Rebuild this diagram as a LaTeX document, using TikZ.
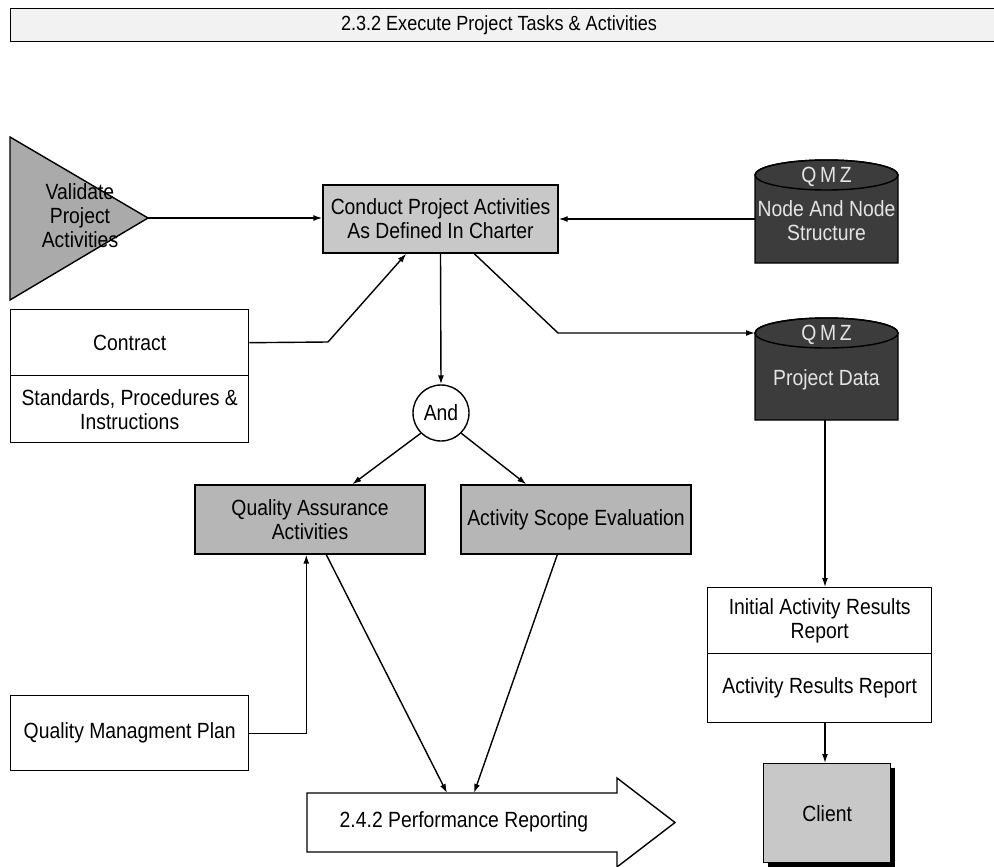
\documentclass[tikz,border=0pt]{standalone}
\usepackage{fontspec}
\setmainfont{Liberation Sans}[FakeStretch=0.88]
\usetikzlibrary{arrows.meta,calc}
\definecolor{titlegray}{HTML}{F2F2F2}
\definecolor{lightg}{HTML}{C8C8C8}
\definecolor{midg}{HTML}{B6B6B6}
\definecolor{trig}{HTML}{AAAAAA}
\definecolor{darkg}{HTML}{3C3C3C}
\definecolor{cyltext}{HTML}{E4E4E4}
\begin{document}
\begin{tikzpicture}[x=1pt,y=1pt,
  ln/.style={line width=1.4pt},
  arr/.style={ln,-{Latex[length=9pt,width=6pt]}},
  txt/.style={font=\fontsize{22}{24}\selectfont, align=center, inner sep=0},
  box/.style={draw, line width=1.4pt, txt},
  anchorbox/.style={inner sep=0, outer sep=0}]
\useasboundingbox (0,0) rectangle (994,-867);
\fill[white] (0,0) rectangle (994,-867);

% title bar
\node[box, fill=titlegray, minimum width=990, minimum height=33, anchor=north west] (title) at (10,-8) {};
\node[txt, font=\fontsize{20.5}{24}\selectfont] (titletxt) at (499,-25) {2.3.2 Execute Project Tasks \& Activities};

% triangle
\filldraw[ln, fill=trig] (10,-137) -- (148,-218) -- (10,-300) -- cycle;
\coordinate (valapex) at (148,-218);
\node[txt] (validate) at (80,-216) {Validate\\Project\\Activities};

% conduct
\node[box, fill=lightg, minimum width=235, minimum height=68] (conduct) at (440.5,-219) {Conduct Project Activities\\As Defined In Charter};

% cylinder 1
\node[anchorbox, minimum width=143, minimum height=103] (qmz1) at (826.5,-211.5) {};
\filldraw[ln, fill=darkg] (qmz1.south west) -- ($(qmz1.north west)+(0,-15)$)
  arc[start angle=180, end angle=0, x radius=71.5pt, y radius=15pt] -- (qmz1.south east) -- cycle;
\draw[ln] ($(qmz1.north)+(0,-15)$) ellipse [x radius=71.5pt, y radius=15pt];
\node[txt, text=cyltext] (qmz1lbl) at (826.5,-177) {Q\,M\,Z};
\node[txt, text=cyltext] (qmz1txt) at (826.5,-221) {Node And Node\\Structure};

% cylinder 2
\node[anchorbox, minimum width=143, minimum height=102] (qmz2) at (826.5,-369) {};
\filldraw[ln, fill=darkg] (qmz2.south west) -- ($(qmz2.north west)+(0,-15)$)
  arc[start angle=180, end angle=0, x radius=71.5pt, y radius=15pt] -- (qmz2.south east) -- cycle;
\draw[ln] ($(qmz2.north)+(0,-15)$) ellipse [x radius=71.5pt, y radius=15pt];
\coordinate (qmz2in) at ($(qmz2.north west)+(0,-15)$);
\node[txt, text=cyltext] (qmz2lbl) at (826.5,-335) {Q\,M\,Z};
\node[txt, text=cyltext] (qmz2txt) at (826.5,-380) {Project Data};

% contract
\node[box, minimum width=238, minimum height=66, anchor=north west] (contract) at (10,-309) {Contract};
\node[box, minimum width=238, minimum height=67, anchor=north west] (standards) at (10,-375) {Standards, Procedures \&\\Instructions};

% and
\node[draw, circle, ln, minimum size=56, txt] (andc) at (441,-413) {And};

% QA / ASE
\node[box, fill=midg, minimum width=230, minimum height=69] (qa) at (310,-519.5) {Quality Assurance\\Activities};
\node[box, fill=midg, minimum width=230, minimum height=69] (ase) at (576,-519.5) {Activity Scope Evaluation};

% QMP
\node[box, minimum width=238, minimum height=75, anchor=north west] (qmp) at (10,-695) {Quality Managment Plan};

% performance reporting
\node[anchorbox, minimum width=310, minimum height=59] (perfbox) at (462,-822.5) {};
\draw[ln, fill=white] (perfbox.north west) -- (perfbox.north east) -- ($(perfbox.north east)+(0,15)$)
  -- ($(perfbox.east)+(58,0)$) -- ($(perfbox.south east)+(0,-15)$) -- (perfbox.south east)
  -- (perfbox.south west) -- cycle;
\node[txt] (perftxt) at (464,-822) {2.4.2 Performance Reporting};

% reports
\node[box, minimum width=224, minimum height=66, anchor=north west] (initrep) at (707,-587) {Initial Activity Results\\Report};
\node[box, minimum width=224, minimum height=69, anchor=north west] (actrep) at (707,-653) {Activity Results Report};

% client
\fill[black] (768,-768) rectangle (895,-867);
\node[box, fill=lightg, minimum width=127, minimum height=99, anchor=north west] (client) at (763,-763) {Client};

% connector end points
\coordinate (dataout) at (825,-420);
\coordinate (repin) at (825,-587);
\coordinate (repout) at (825,-722);
\coordinate (clientin) at (825,-763);

% connectors
\draw[arr] (valapex) -- (conduct.west |- valapex);
\draw[arr] (qmz1.west |- conduct.east) -- (conduct.east);
\draw[arr] (contract.east) -- (328,-342) -- ($(conduct.south west)+(84,0)$);
\draw[arr] (conduct.south) -- (andc.north);
\draw[arr] ($(conduct.south west)+(152,0)$) -- (558,-333) -- (qmz2in);
\draw[arr] (andc.225) -- ($(qa.north west)+(158,0)$);
\draw[arr] (andc.-45) -- ($(ase.north west)+(66,0)$);
\draw[arr] (qmp.east) -| ($(qa.south west)+(112,0)$);
\draw[arr] ($(qa.south west)+(132,0)$) -- ($(perfbox.north west)+(140,0)$);
\draw[arr] ($(ase.south west)+(97,0)$) -- ($(perfbox.north west)+(167,0)$);
\draw[arr] (dataout) -- (repin);
\draw[arr] (repout) -- (clientin);
\end{tikzpicture}
\end{document}
